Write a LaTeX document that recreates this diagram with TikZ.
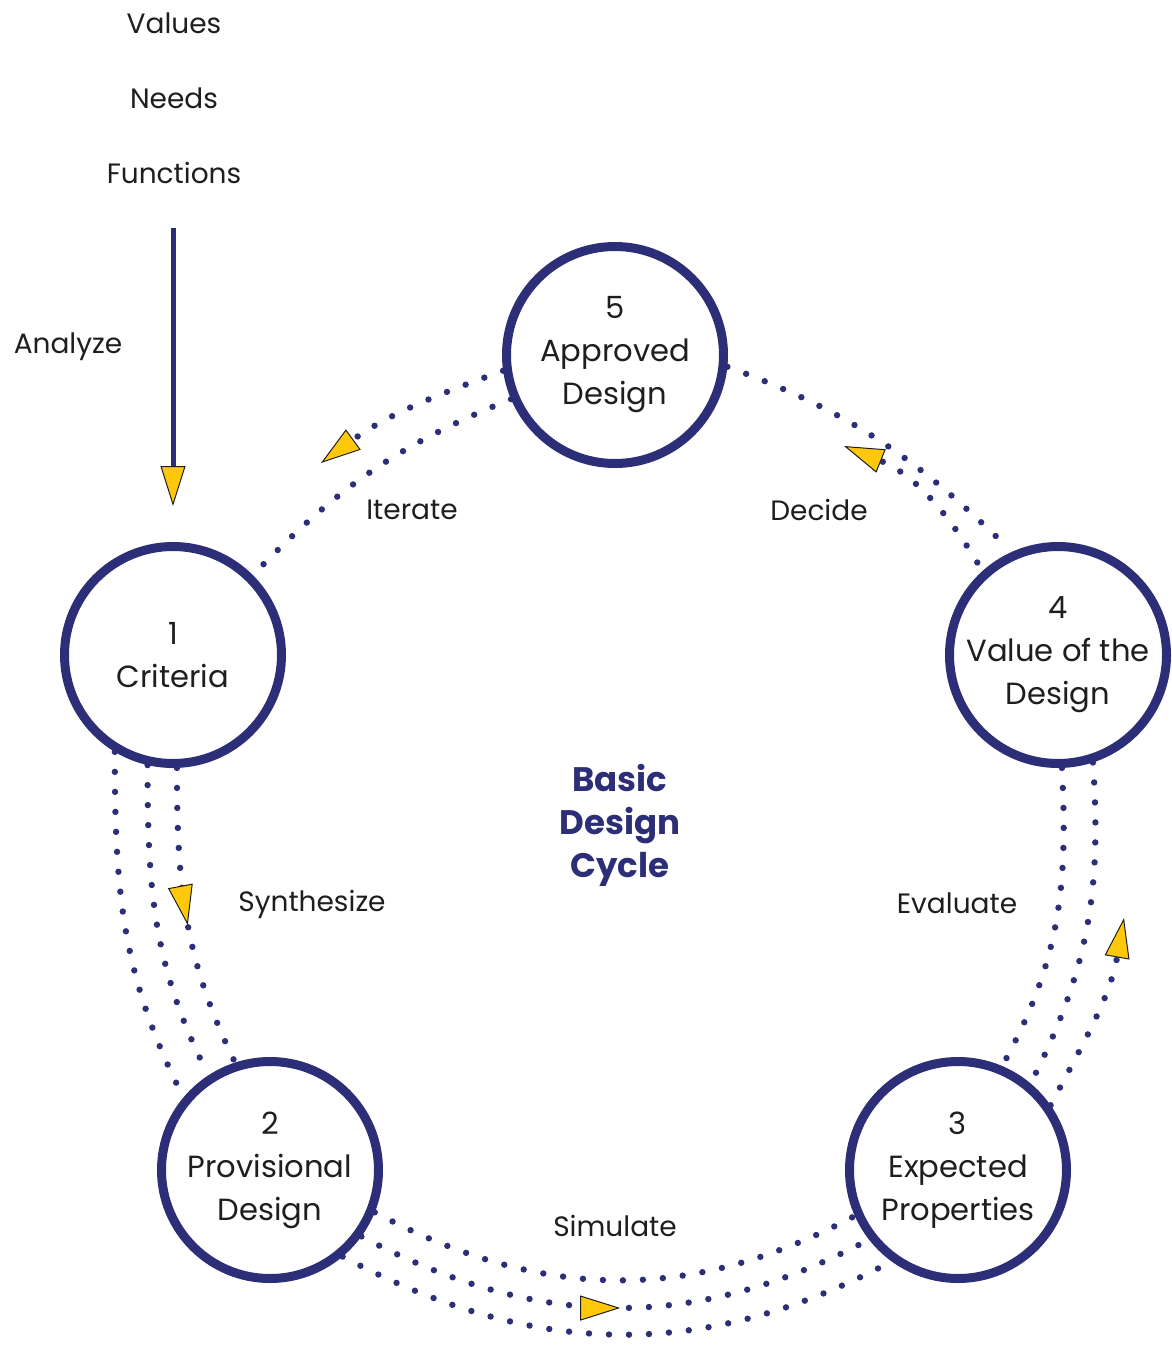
\documentclass[tikz,border=0pt]{standalone}
\usepackage{fontspec}
\setmainfont{Poppins}
\usetikzlibrary{arrows.meta,decorations.markings}

\definecolor{navy}{RGB}{45,46,120}
\definecolor{gold}{RGB}{255,200,10}
\definecolor{ink}{RGB}{30,30,30}

\tikzset{
  stage/.style={circle,draw=navy,line width=4.5pt,minimum size=108.5pt,inner sep=0pt,
    align=center,text=ink,font=\fontsize{15.3}{21.5}\selectfont},
  lbl/.style={text=ink,font=\fontsize{14}{21}\selectfont},
  dotline/.style={navy,line width=3.2pt,line cap=round,dash pattern=on 0pt off 10pt},
  gtip/.tip={Triangle[length=20pt,width=12.5pt,color=ink,fill=gold,line width=0.5pt]},
  midtip/.style={postaction={decorate,decoration={markings,
    mark=at position #1 with {\arrow{gtip}}}}}
}

\begin{document}
\begin{tikzpicture}[x=0.5pt,y=0.5pt]
\useasboundingbox (0,0) rectangle (1172,-1349);

% the five stages
\node[stage] (c1) at (173,-655) {1\\Criteria};
\node[stage] (c2) at (270,-1170) {2\\Provisional\\Design};
\node[stage] (c3) at (958,-1170) {3\\Expected\\Properties};
\node[stage] (c4) at (1058,-655) {4\\Value of the\\Design};
\node[stage] (c5) at (615,-355) {5\\Approved\\Design};

\node[align=center,text=navy,font=\bfseries\fontsize{17}{21.5}\selectfont] (title) at (620,-825) {Basic\\Design\\Cycle};

% inputs
\node[lbl] (values) at (174,-23) {Values};
\node[lbl] (needs) at (174,-98) {Needs};
\node[lbl] (funcs) at (174,-173) {Functions};
\node[lbl] (analyze) at (68,-347) {Analyze};
\coordinate (ftop) at (173,-228);
\draw[navy,line width=2.5pt,-{gtip},shorten >=18pt] (ftop) -- (c1.north);

% step names
\node[lbl] (synth) at (312,-904) {Synthesize};
\node[lbl] (simul) at (615,-1226) {Simulate};
\node[lbl] (evalu) at (957,-903) {Evaluate};
\node[lbl] (decide) at (819,-510) {Decide};
\node[lbl] (iter) at (412,-510) {Iterate};

% 1 -> 2
\foreach \a/\b in {-121/140,-103/123}
  \draw[dotline] (c1.\a) to[out=-90,in=117] (c2.\b);
\draw[dotline,midtip=0.52] (c1.-88) to[out=-90,in=116] (c2.108);

% 2 -> 3
\draw[dotline] (c2.-22) to[out=-28,in=-152] (c3.-156);
\draw[dotline,midtip=0.51] (c2.-36) to[out=-28,in=-152] (c3.-142);
\draw[dotline] (c2.-50) to[out=-28,in=-152] (c3.-126);

% 3 -> 4
\draw[dotline] (c4.-88) to[out=-87,in=61] (c3.67);
\draw[dotline] (c4.-72) to[out=-86,in=63] (c3.50);
\coordinate (etip) at (1124,-918);
\draw[dotline,-{gtip}] (c3.35) to[out=62,in=-100] (etip);

% 4 -> 5
\draw[dotline,shorten >=8pt] (c5.-6) to[out=-20,in=136] (c4.114);
\coordinate (dtip) at (844,-446);
\draw[dotline,-{gtip},shorten <=5pt] (c4.132) to[out=121,in=-22] (dtip);

% 5 -> 1
\coordinate (itip) at (321,-463);
\draw[dotline,-{gtip}] (c5.188) to[out=200,in=36] (itip);
\draw[dotline] (c5.203) to[out=202,in=46] (c1.45);
\end{tikzpicture}
\end{document}
